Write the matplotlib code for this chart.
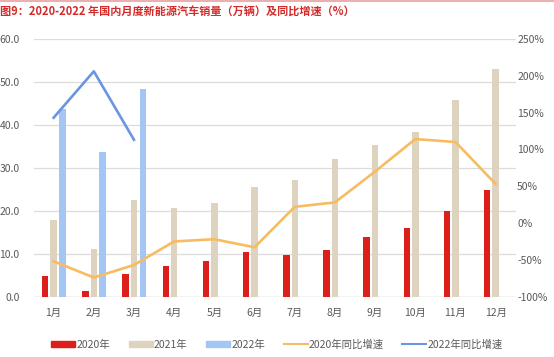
import matplotlib.pyplot as plt
import numpy as np
from matplotlib.lines import Line2D
from matplotlib.patches import Patch

plt.rcParams['font.family'] = ['Noto Sans CJK SC', 'DejaVu Sans']

months = ['1月', '2月', '3月', '4月', '5月', '6月', '7月', '8月', '9月', '10月', '11月', '12月']
sales_2020 = [4.7, 1.3, 5.3, 7.2, 8.2, 10.4, 9.8, 10.9, 13.8, 16.0, 20.0, 24.8]
sales_2021 = [17.9, 11.0, 22.6, 20.6, 21.7, 25.6, 27.1, 32.1, 35.3, 38.3, 45.8, 53.1]
sales_2022 = [43.7, 33.6, 48.4]
yoy_2020 = [-52, -74, -57, -25, -22, -33, 22, 28, 70, 114, 110, 53]
yoy_2022 = [143, 206, 113]

left_ticks = [0, 10, 20, 30, 40, 50, 60]
right_ticks = [-100, -50, 0, 50, 100, 150, 200, 250]

red = '#DC1F1A'
tan = '#DDD3BF'
lblue = '#A3C6F4'
orange = '#F7BC62'
blue = '#6B95E2'
grey = '#595959'

fig = plt.figure(figsize=(5.54, 3.57), dpi=100)
ax = fig.add_axes([0.0605, 0.169, 0.8705, 0.722])
ax2 = ax.twinx()

x = np.arange(len(months))
w = 0.16
ax.bar(x - 0.21, sales_2020, w, color=red, zorder=3)
ax.bar(x, sales_2021, w, color=tan, zorder=3)
ax.bar(x[:3] + 0.22, sales_2022, w, color=lblue, zorder=3)

ax2.plot(x, yoy_2020, color=orange, lw=1.9, zorder=4)
ax2.plot(x[:3], yoy_2022, color=blue, lw=1.9, zorder=4)

ax.set_xlim(-0.5, 11.5)
ax.set_ylim(0, 60)
ax.set_yticks(left_ticks)
ax.set_yticklabels([f'{v:.1f}' for v in left_ticks])
ax2.set_ylim(-100, 250)
ax2.set_yticks(right_ticks)
ax2.set_yticklabels([f'{v}%' for v in right_ticks])
ax.set_xticks(x)
ax.set_xticklabels(months)

ax.grid(axis='y', color='#DCDCDC', lw=0.9, zorder=0)
for a in (ax, ax2):
    for s in a.spines.values():
        s.set_visible(False)
    a.tick_params(length=0, colors=grey, labelsize=7.5)
ax.tick_params(axis='y', pad=10)
ax.tick_params(axis='x', pad=8)
ax2.tick_params(axis='y', pad=1)
ax.axhline(0, color='#C8C8C8', lw=0.9, zorder=2)

handles = [Patch(color=red), Patch(color=tan), Patch(color=lblue),
           Line2D([], [], color=orange, lw=1.5), Line2D([], [], color=blue, lw=1.5)]
labels = ['2020年', '2021年', '2022年', '2020年同比增速', '2022年同比增速']
fig.legend(handles, labels, loc='center', bbox_to_anchor=(0.5, 0.035), ncol=5,
           frameon=False, fontsize=7.5, handlelength=2.3, handleheight=0.55,
           handletextpad=0.1, columnspacing=1.8, labelcolor=grey)

fig.text(0.0, 0.965, '图9：2020-2022 年国内月度新能源汽车销量（万辆）及同比增速（%）',
         color='#D42A2A', fontsize=8, fontweight='bold', va='center', ha='left')
fig.add_artist(Line2D([0, 1], [0.997, 0.997], color='#E8A0A0', lw=1.2))

fig.savefig('out.png', dpi=100)
